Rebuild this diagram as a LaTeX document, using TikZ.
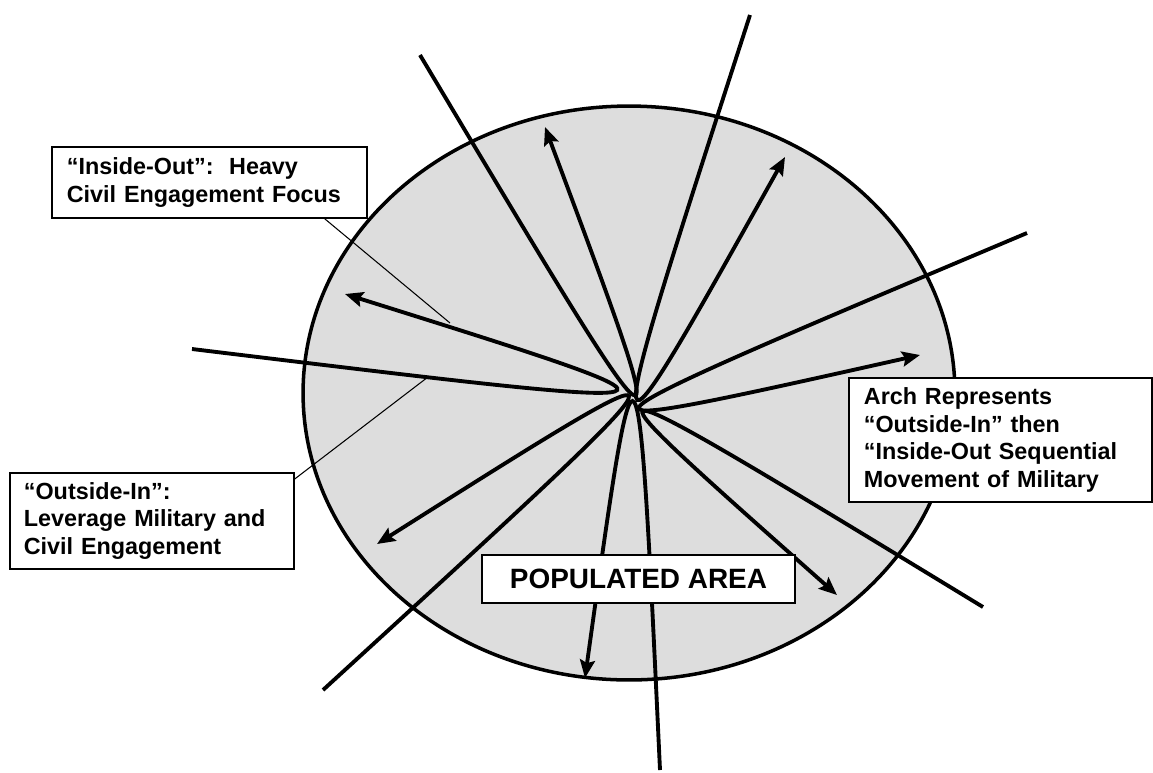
\documentclass[tikz,border=0pt]{standalone}
\usepackage{fontspec}
\setmainfont{Liberation Sans}
\usetikzlibrary{arrows.meta,calc}
\definecolor{areagray}{RGB}{221,221,221}
\begin{document}
\begin{tikzpicture}[x=0.02cm,y=-0.02cm,
  loopline/.style={line width=2.2pt},
  tipped/.style={loopline,-{Stealth[length=0.36cm,width=0.3cm,inset=0.06cm]}},
  leader/.style={line width=0.6pt},
  labelbox/.style={draw, line width=1pt, fill=white, anchor=north west, align=left,
    inner xsep=0pt, inner ysep=0pt, font=\bfseries\fontsize{13.3pt}{15.7pt}\selectfont},
  areabox/.style={draw, line width=1.1pt, fill=white, inner sep=0pt,
    font=\bfseries\fontsize{15.9pt}{18pt}\selectfont},
]
\useasboundingbox (0,0) rectangle (1153,772);
% populated area
\draw[line width=2pt, fill=areagray] (629,393) ellipse [x radius=6.52cm, y radius=5.74cm];
% loops: plain end A, arrow end B, tip T near the centre
\foreach \n/\ax/\ay/\bx/\by/\tx/\ty in {
  a/192/349/345/294/613/391,
  b/420/55/545/127/632/393,
  c/750/15/785/157/637/396,
  d/1027/233/920/355/642/405,
  e/983/607/837/595/647/412,
  f/660/770/585/678/634/404,
  g/323/690/377/544/627/400}{
  \coordinate (A\n) at (\ax,\ay);
  \coordinate (B\n) at (\bx,\by);
  \coordinate (T\n) at (\tx,\ty);
  \coordinate (P\n) at ($1.33333*(T\n)-0.166667*(A\n)-0.166667*(B\n)$);
  \draw[tipped] (A\n) .. controls (P\n) and (P\n) .. (B\n);
}
% label boxes
\node[labelbox, minimum width=6.3cm, minimum height=1.42cm, text width=5.7cm]
  (insidebox) at (51,146) {“Inside-Out”:\ \ Heavy\\Civil Engagement Focus};
\node[labelbox, minimum width=5.68cm, minimum height=1.92cm, text width=5.12cm]
  (outsidebox) at (9,472) {“Outside-In”:\\Leverage Military and\\Civil Engagement};
\node[labelbox, minimum width=6.06cm, minimum height=2.48cm, text width=5.46cm]
  (archbox) at (848,377) {Arch Represents\\“Outside-In” then\\“Inside-Out Sequential\\Movement of Military};
\node[areabox, minimum width=6.26cm, minimum height=0.96cm]
  (areabox) at (638.5,579) {POPULATED AREA};
% leader lines
\coordinate (inEnd) at (450,323);
\coordinate (outEnd) at (428,377);
\draw[leader] ($(insidebox.south east)+(-43,0)$) -- (inEnd);
\draw[leader] ($(outsidebox.north east)+(0,7)$) -- (outEnd);
\end{tikzpicture}
\end{document}
